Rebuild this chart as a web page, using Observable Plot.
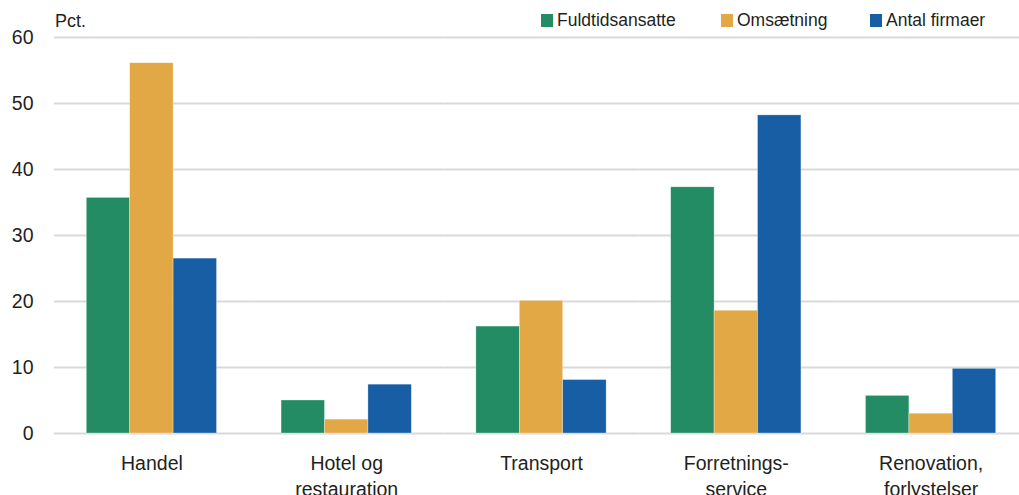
<!DOCTYPE html>
<html>
<head>
<meta charset="utf-8">
<script src="https://cdn.jsdelivr.net/npm/d3@7"></script>
<script src="https://cdn.jsdelivr.net/npm/@observablehq/plot@0.6"></script>
<style>
  body { margin: 0; background: #fff; font-family: "Liberation Sans", Arial, sans-serif; color: #231f20; }
  #wrap { position: relative; width: 1019px; height: 495px; overflow: hidden; }
  #legend { position: absolute; top: 8px; left: 0; width: 1019px; height: 24px; font-size: 17.5px; }
  .item { position: absolute; top: 0; display: flex; align-items: center; height: 24px; white-space: nowrap; }
  .sw { width: 12px; height: 13px; margin-right: 4px; }
  #unit { position: absolute; left: 55px; top: 11px; font-size: 18px; }
  svg { display: block; }
</style>
</head>
<body>
<div id="wrap">
  <div id="chart"></div>
  <div id="unit">Pct.</div>
  <div id="legend"></div>
</div>
<script>
const categories = ["Handel", "Hotel og\nrestauration", "Transport", "Forretnings-\nservice", "Renovation,\nforlystelser"];
const seriesNames = ["Fuldtidsansatte", "Omsætning", "Antal firmaer"];
const fuldtidsansatte = [35.7, 5.0, 16.2, 37.3, 5.7];
const omsaetning = [56.1, 2.1, 20.1, 18.6, 3.0];
const antalFirmaer = [26.5, 7.4, 8.1, 48.2, 9.8];
const yTicks = [0, 10, 20, 30, 40, 50, 60];
const colors = ["#248C64", "#E3A846", "#185EA4"];

const seriesValues = [fuldtidsansatte, omsaetning, antalFirmaer];
const data = [];
categories.forEach((c, i) => {
  seriesNames.forEach((s, j) => data.push({category: c, series: s, value: seriesValues[j][i]}));
});

const chart = Plot.plot({
  width: 1019,
  height: 495,
  marginTop: 37,
  marginBottom: 62,
  marginLeft: 54,
  marginRight: -9,
  style: {fontFamily: "'Liberation Sans', Arial, sans-serif", color: "#231f20", background: "white"},
  fx: {domain: categories, padding: 0, round: false, label: null},
  x: {domain: seriesNames, paddingInner: 0, paddingOuter: 0.7435, round: false, axis: null},
  y: {domain: [0, 60], label: null},
  color: {domain: seriesNames, range: colors},
  marks: [
    Plot.ruleY(yTicks, {stroke: "#d9d9d9", strokeWidth: 2.2}),
    Plot.barY(data, {fx: "category", x: "series", y: "value", fill: "series", stroke: "white", strokeWidth: 0.6, strokeOpacity: 0.5}),
    Plot.axisY({ticks: yTicks, tickSize: 0, tickPadding: 21, fontSize: 19.5, label: null}),
    Plot.axisFx({anchor: "bottom", tickSize: 0, tickPadding: 18, fontSize: 19.5, lineHeight: 1.33, label: null})
  ]
});
document.getElementById("chart").appendChild(chart);

const legend = document.getElementById("legend");
const legendLeft = [541, 721, 870];
seriesNames.forEach((s, i) => {
  const it = document.createElement("div");
  it.className = "item";
  it.style.left = legendLeft[i] + "px";
  it.innerHTML = `<span class="sw" style="background:${colors[i]}"></span><span>${s}</span>`;
  legend.appendChild(it);
});
</script>
</body>
</html>
